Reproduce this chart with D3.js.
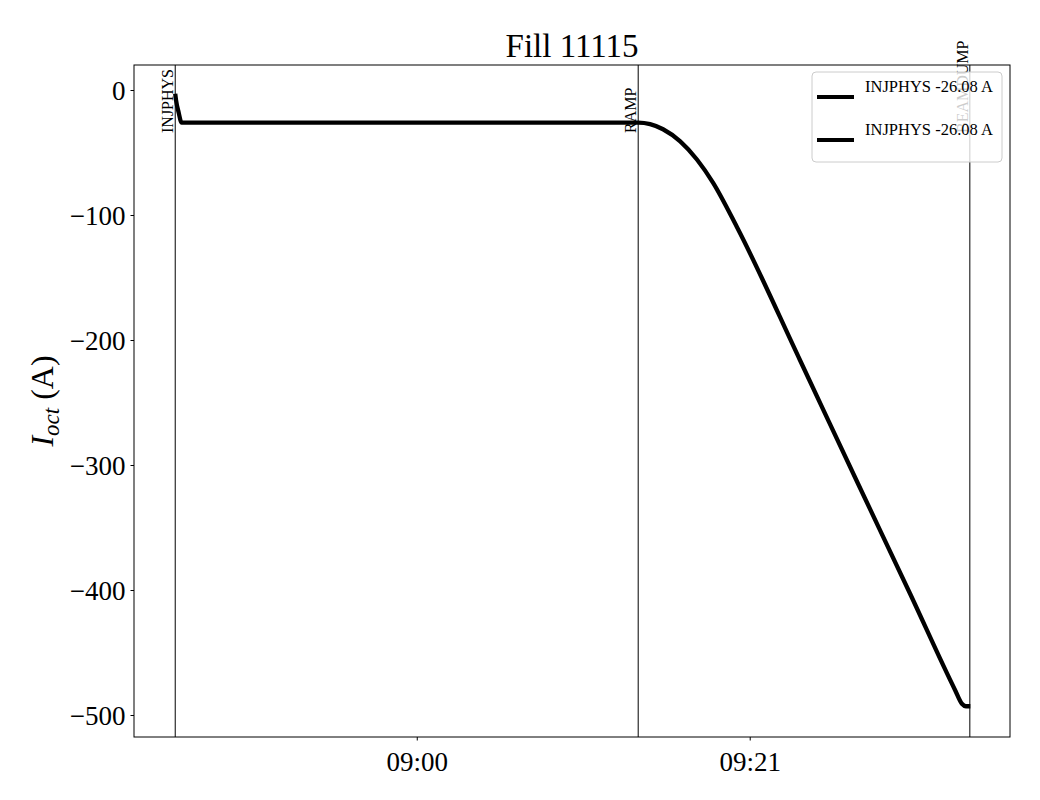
<!DOCTYPE html>
<html>
<head>
<meta charset="utf-8">
<script src="https://cdn.jsdelivr.net/npm/d3@7"></script>
<style>
  html, body { margin: 0; padding: 0; background: #fff; }
  svg { display: block; }
  text { font-family: "Liberation Serif", "DejaVu Serif", serif; }
</style>
</head>
<body>
<svg id="chart" width="1040" height="800"></svg>
<script>
// ---- data ----
const title = "Fill 11115";
const times = ["08:44:46","08:44:49","08:44:59","08:45:10","09:13:58","09:14:43","09:15:32","09:16:37",
               "09:17:41","09:18:41","09:20:12","09:24:10","09:27:50","09:31:07","09:33:57","09:34:23","09:34:38","09:34:55"];
const currents = [-3, -8, -18, -26.08, -26.08, -27.3, -31.4, -41.1, -55.8, -74.1, -109.8, -216, -315, -403, -480, -491, -493, -493];
const eventNames = ["INJPHYS", "RAMP", "BEAMDUMP"];
const eventTimes = ["08:44:46", "09:13:58", "09:34:53"];
const legendLabels = ["INJPHYS -26.08 A", "INJPHYS -26.08 A"];
const xTickTimes = ["09:00:00", "09:21:00"];
const yTicks = [0, -100, -200, -300, -400, -500];
const xDomain = ["08:42:10", "09:37:25"];
const yDomain = [-517.6, 20];

const parse = d3.timeParse("%H:%M:%S");
const data = times.map((t, i) => ({ t: parse(t), v: currents[i] }));

const svg = d3.select("#chart");
const m = { left: 134, right: 1010, top: 65, bottom: 737 };

const x = d3.scaleTime().domain(xDomain.map(parse)).range([m.left, m.right]);
const y = d3.scaleLinear().domain(yDomain).range([m.bottom, m.top]);

// axes
const fmtY = d => (d < 0 ? "\u2212" + Math.abs(d) : String(d));
const xAxis = d3.axisBottom(x).tickValues(xTickTimes.map(parse)).tickFormat(d3.timeFormat("%H:%M")).tickSizeOuter(0).tickSize(3.5).tickPadding(6);
const yAxis = d3.axisLeft(y).tickValues(yTicks).tickFormat(fmtY).tickSizeOuter(0).tickSize(3.5).tickPadding(5);

const gx = svg.append("g").attr("transform", `translate(0,${m.bottom})`).call(xAxis);
gx.select(".domain").remove();
gx.selectAll("text").attr("font-size", 27).attr("font-family", "Liberation Serif").attr("fill", "#000").attr("dy", "0.92em");
gx.selectAll("line").attr("stroke", "#000");

const gy = svg.append("g").attr("transform", `translate(${m.left},0)`).call(yAxis);
gy.select(".domain").remove();
gy.selectAll("text").attr("font-size", 27).attr("font-family", "Liberation Serif").attr("fill", "#000").attr("dy", "0.34em");
gy.selectAll("line").attr("stroke", "#000");

// event lines
eventTimes.forEach((t, i) => {
  const ex = x(parse(t));
  svg.append("line").attr("x1", ex).attr("x2", ex).attr("y1", m.top).attr("y2", m.bottom)
    .attr("stroke", "#000").attr("stroke-width", 1);
  svg.append("text").attr("transform", `translate(${ex - 2},133) rotate(-90)`)
    .attr("text-anchor", "start").attr("font-size", 16).attr("fill", "#000").text(eventNames[i]);
});

// data line
const line = d3.line().x(d => x(d.t)).y(d => y(d.v)).curve(d3.curveMonotoneX);
svg.append("path").datum(data).attr("d", line).attr("fill", "none")
  .attr("stroke", "#000").attr("stroke-width", 4.3).attr("stroke-linejoin", "round");

// frame
svg.append("rect").attr("x", m.left).attr("y", m.top).attr("width", m.right - m.left).attr("height", m.bottom - m.top)
  .attr("fill", "none").attr("stroke", "#000").attr("stroke-width", 1);

// title
svg.append("text").attr("x", (m.left + m.right) / 2).attr("y", 57).attr("text-anchor", "middle")
  .attr("font-size", 33).attr("fill", "#000").text(title);

// y label
const yl = svg.append("text").attr("transform", `translate(53,${(m.top + m.bottom) / 2}) rotate(-90)`)
  .attr("text-anchor", "middle").attr("font-size", 32).attr("fill", "#000");
yl.append("tspan").attr("font-style", "italic").text("I");
yl.append("tspan").attr("font-style", "italic").attr("font-size", 23).attr("dy", 6).text("oct");
yl.append("tspan").attr("dy", -6).text(" (A)");

// legend
const lg = svg.append("g");
lg.append("rect").attr("x", 812).attr("y", 72).attr("width", 190).attr("height", 90).attr("rx", 4)
  .attr("fill", "#fff").attr("fill-opacity", 0.8).attr("stroke", "#ccc").attr("stroke-width", 1);
legendLabels.forEach((lab, i) => {
  const yy = 97 + i * 43;
  lg.append("line").attr("x1", 817).attr("x2", 854).attr("y1", yy).attr("y2", yy)
    .attr("stroke", "#000").attr("stroke-width", 4);
  lg.append("text").attr("x", 865).attr("y", 92 + i * 43).attr("font-size", 16.5).attr("fill", "#000").text(lab);
});
</script>
</body>
</html>
